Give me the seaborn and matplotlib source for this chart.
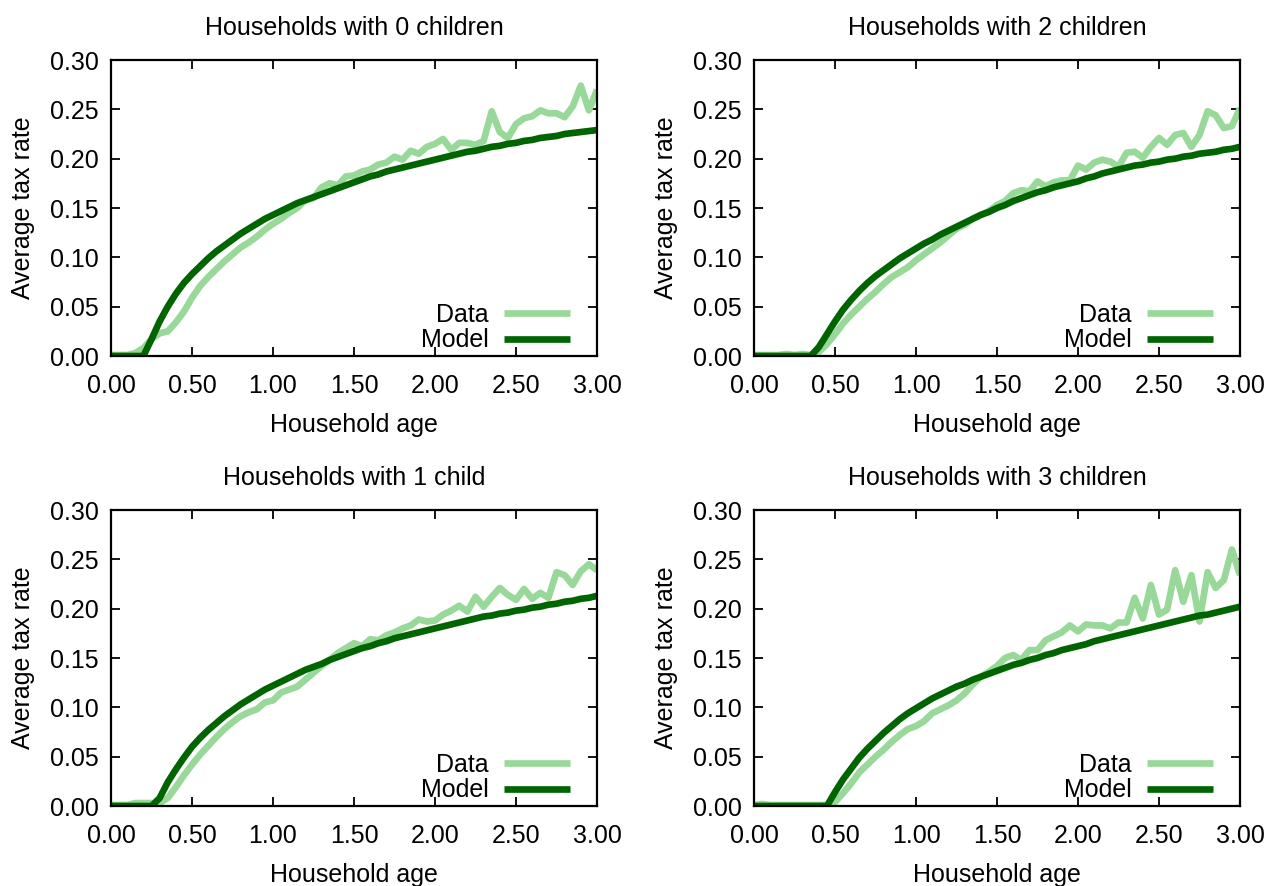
import numpy as np
import pandas as pd
import matplotlib
matplotlib.use("Agg")
import matplotlib.pyplot as plt
import seaborn as sns
from matplotlib.ticker import MultipleLocator, FormatStrFormatter

# ---------------- data ----------------
age = [round(0.05 * i, 2) for i in range(61)]

titles = ["Households with 0 children", "Households with 2 children",
          "Households with 1 child", "Households with 3 children"]

data_0 = [0.001, 0.001, 0.001, 0.003, 0.008, 0.017, 0.023, 0.025, 0.034, 0.045,
          0.059, 0.071, 0.080, 0.088, 0.096, 0.103, 0.110, 0.115, 0.121, 0.128,
          0.134, 0.139, 0.145, 0.150, 0.158, 0.160, 0.171, 0.175, 0.173, 0.182,
          0.183, 0.187, 0.189, 0.194, 0.196, 0.202, 0.199, 0.208, 0.205, 0.212,
          0.215, 0.220, 0.209, 0.216, 0.216, 0.214, 0.218, 0.248, 0.227, 0.221,
          0.235, 0.241, 0.243, 0.249, 0.246, 0.246, 0.242, 0.253, 0.274, 0.249,
          0.270]
model_0 = [0.0, 0.0, 0.0, 0.0, 0.0, 0.017, 0.035, 0.050, 0.063, 0.074,
           0.083, 0.091, 0.099, 0.106, 0.112, 0.118, 0.124, 0.129, 0.134, 0.139,
           0.143, 0.147, 0.151, 0.155, 0.158, 0.161, 0.164, 0.167, 0.170, 0.173,
           0.176, 0.179, 0.182, 0.184, 0.187, 0.189, 0.191, 0.193, 0.195, 0.197,
           0.199, 0.201, 0.203, 0.205, 0.207, 0.208, 0.210, 0.212, 0.213, 0.215,
           0.216, 0.218, 0.219, 0.221, 0.222, 0.223, 0.225, 0.226, 0.227, 0.228,
           0.229]

data_2 = [0.001, 0.001, 0.001, 0.001, 0.002, 0.001, 0.002, 0.001, 0.004, 0.012,
          0.022, 0.033, 0.042, 0.050, 0.058, 0.065, 0.073, 0.080, 0.085, 0.090,
          0.097, 0.103, 0.109, 0.115, 0.122, 0.129, 0.133, 0.139, 0.143, 0.147,
          0.153, 0.157, 0.165, 0.168, 0.167, 0.177, 0.172, 0.176, 0.178, 0.178,
          0.193, 0.189, 0.196, 0.199, 0.197, 0.192, 0.206, 0.207, 0.201, 0.212,
          0.221, 0.214, 0.224, 0.226, 0.212, 0.224, 0.248, 0.244, 0.231, 0.233,
          0.251]
model_2 = [0.0, 0.0, 0.0, 0.0, 0.0, 0.0, 0.0, 0.0, 0.009, 0.022,
           0.035, 0.047, 0.057, 0.066, 0.074, 0.081, 0.087, 0.093, 0.099, 0.104,
           0.109, 0.114, 0.118, 0.123, 0.127, 0.131, 0.135, 0.139, 0.143, 0.146,
           0.150, 0.153, 0.157, 0.160, 0.163, 0.166, 0.168, 0.171, 0.173, 0.175,
           0.177, 0.180, 0.182, 0.185, 0.187, 0.189, 0.191, 0.193, 0.194, 0.196,
           0.197, 0.199, 0.200, 0.202, 0.203, 0.205, 0.206, 0.207, 0.209, 0.210,
           0.212]

data_1 = [0.001, 0.001, 0.001, 0.003, 0.003, 0.003, 0.003, 0.008, 0.019, 0.031,
          0.042, 0.052, 0.061, 0.070, 0.078, 0.085, 0.091, 0.095, 0.098, 0.105,
          0.107, 0.115, 0.118, 0.121, 0.128, 0.135, 0.142, 0.148, 0.155, 0.160,
          0.165, 0.162, 0.169, 0.168, 0.173, 0.176, 0.180, 0.183, 0.189, 0.187,
          0.188, 0.194, 0.198, 0.203, 0.197, 0.212, 0.202, 0.212, 0.221, 0.214,
          0.209, 0.220, 0.210, 0.216, 0.211, 0.237, 0.234, 0.224, 0.238, 0.245,
          0.239]
model_1 = [0.0, 0.0, 0.0, 0.0, 0.0, 0.0, 0.008, 0.024, 0.037, 0.049,
           0.060, 0.069, 0.077, 0.084, 0.091, 0.097, 0.103, 0.108, 0.113, 0.118,
           0.122, 0.126, 0.130, 0.134, 0.138, 0.141, 0.144, 0.148, 0.151, 0.154,
           0.157, 0.160, 0.162, 0.165, 0.167, 0.170, 0.172, 0.174, 0.176, 0.178,
           0.180, 0.182, 0.184, 0.186, 0.188, 0.190, 0.192, 0.193, 0.195, 0.196,
           0.198, 0.199, 0.201, 0.202, 0.204, 0.205, 0.207, 0.208, 0.210, 0.211,
           0.213]

data_3 = [0.001, 0.002, 0.001, 0.001, 0.001, 0.001, 0.001, 0.001, 0.001, 0.001,
          0.004, 0.013, 0.023, 0.034, 0.042, 0.050, 0.057, 0.065, 0.072, 0.078,
          0.081, 0.086, 0.094, 0.098, 0.102, 0.107, 0.114, 0.123, 0.131, 0.136,
          0.142, 0.150, 0.153, 0.148, 0.158, 0.158, 0.168, 0.172, 0.176, 0.183,
          0.177, 0.184, 0.183, 0.183, 0.180, 0.186, 0.186, 0.211, 0.190, 0.224,
          0.194, 0.199, 0.239, 0.207, 0.234, 0.187, 0.237, 0.221, 0.229, 0.260,
          0.234]
model_3 = [0.0, 0.0, 0.0, 0.0, 0.0, 0.0, 0.0, 0.0, 0.0, 0.0,
           0.014, 0.027, 0.038, 0.049, 0.058, 0.066, 0.074, 0.081, 0.088, 0.094,
           0.099, 0.104, 0.109, 0.113, 0.117, 0.121, 0.124, 0.128, 0.131, 0.134,
           0.137, 0.140, 0.143, 0.145, 0.148, 0.150, 0.153, 0.155, 0.158, 0.160,
           0.162, 0.164, 0.167, 0.169, 0.171, 0.173, 0.175, 0.177, 0.179, 0.181,
           0.183, 0.185, 0.187, 0.189, 0.191, 0.193, 0.194, 0.196, 0.198, 0.200,
           0.202]

panels = [(titles[0], data_0, model_0), (titles[1], data_2, model_2),
          (titles[2], data_1, model_1), (titles[3], data_3, model_3)]

# ---------------- style ----------------
sns.set_theme(style="ticks")
plt.rcParams["font.family"] = ["Liberation Sans", "DejaVu Sans"]
plt.rcParams["font.size"] = 18
plt.rcParams["text.color"] = "black"
plt.rcParams["axes.labelcolor"] = "black"
plt.rcParams["lines.solid_capstyle"] = "butt"

DATA_COLOR = "#98d898"
MODEL_COLOR = "#006400"
FS = 18

W, H = 1266, 886
fig = plt.figure(figsize=(W / 100, H / 100), dpi=100)

# axes rectangles in pixels: left, top, right, bottom
rects = [(111, 60, 597, 356), (754, 60, 1240, 356),
         (111, 510, 597, 806), (754, 510, 1240, 806)]

for (title, dvals, mvals), (l, t, r, b) in zip(panels, rects):
    ax = fig.add_axes([l / W, 1 - b / H, (r - l) / W, (b - t) / H])
    df = pd.DataFrame({"age": age, "Data": dvals, "Model": mvals})
    sns.lineplot(data=df, x="age", y="Data", ax=ax, color=DATA_COLOR,
                 lw=4.8, label="Data", solid_capstyle="butt")
    sns.lineplot(data=df, x="age", y="Model", ax=ax, color=MODEL_COLOR,
                 lw=4.8, label="Model", solid_capstyle="butt")
    ax.set_xlim(0, 3)
    ax.set_ylim(0, 0.30)
    ax.xaxis.set_major_locator(MultipleLocator(0.5))
    ax.yaxis.set_major_locator(MultipleLocator(0.05))
    ax.xaxis.set_major_formatter(FormatStrFormatter("%.2f"))
    ax.yaxis.set_major_formatter(FormatStrFormatter("%.2f"))
    ax.tick_params(axis="both", direction="in", length=6.5, width=1.3,
                   top=True, right=True, labelsize=FS, colors="black")
    ax.tick_params(axis="x", pad=13)
    ax.tick_params(axis="y", pad=9)
    for s in ax.spines.values():
        s.set_linewidth(1.6)
        s.set_color("black")
    ax.set_title(title, fontsize=FS, pad=18, color="black")
    ax.set_xlabel("Household age", fontsize=FS)
    ax.set_ylabel("Average tax rate", fontsize=FS)
    ax.xaxis.set_label_coords(0.5, -0.193)
    ax.yaxis.set_label_coords(-0.156, 0.5)
    ax.legend(loc="lower right", bbox_to_anchor=(0.945, 0.012), frameon=False,
              markerfirst=False, handlelength=2.65, handletextpad=0.6,
              labelspacing=0.05, borderpad=0, borderaxespad=0, fontsize=FS)

fig.savefig("out.png", dpi=100)
